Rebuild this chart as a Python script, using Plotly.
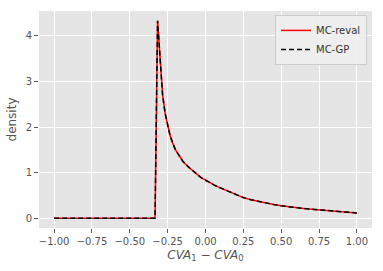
import plotly.graph_objects as go

# x grid points (CVA_1 - CVA_0)
x_vals = [-1.0, -0.3333, -0.3167, -0.30, -0.2833, -0.2667, -0.25, -0.2333, -0.2167, -0.20,
          -0.1833, -0.1667, -0.15, -0.1333, -0.1167, -0.10, -0.0833, -0.0667, -0.05, -0.0333,
          -0.0167, 0.0, 0.0167, 0.0333, 0.05, 0.0667, 0.0833, 0.10, 0.1167, 0.1333,
          0.15, 0.1667, 0.1833, 0.20, 0.2167, 0.2333, 0.25, 0.30, 0.35, 0.40,
          0.45, 0.50, 0.55, 0.60, 0.65, 0.70, 0.75, 0.80, 0.85, 0.90,
          0.95, 1.00]
# density from MC revaluation
y_reval = [0.0, 0.0, 4.33, 3.40, 2.70, 2.30, 2.04, 1.80, 1.65, 1.51,
           1.42, 1.33, 1.25, 1.19, 1.13, 1.085, 1.04, 0.99, 0.945, 0.90,
           0.865, 0.83, 0.80, 0.77, 0.74, 0.71, 0.685, 0.66, 0.635, 0.61,
           0.585, 0.56, 0.535, 0.51, 0.49, 0.47, 0.45, 0.405, 0.365, 0.33,
           0.30, 0.272, 0.248, 0.228, 0.21, 0.195, 0.18, 0.165, 0.152, 0.14,
           0.127, 0.115]
# density from MC with GP
y_gp = [0.0, 0.0, 4.33, 3.40, 2.70, 2.30, 2.04, 1.80, 1.65, 1.51,
        1.42, 1.33, 1.25, 1.19, 1.13, 1.085, 1.04, 0.99, 0.945, 0.90,
        0.865, 0.83, 0.80, 0.77, 0.74, 0.71, 0.685, 0.66, 0.635, 0.61,
        0.585, 0.56, 0.535, 0.51, 0.49, 0.47, 0.45, 0.405, 0.365, 0.33,
        0.30, 0.272, 0.248, 0.228, 0.21, 0.195, 0.18, 0.165, 0.152, 0.14,
        0.127, 0.115]

x_ticks = [-1.0, -0.75, -0.5, -0.25, 0.0, 0.25, 0.5, 0.75, 1.0]
y_ticks = [0, 1, 2, 3, 4]

fig = go.Figure()
fig.add_trace(go.Scatter(x=x_vals, y=y_reval, mode="lines", name="MC-reval",
                         line=dict(color="#FF0000", width=1.5)))
fig.add_trace(go.Scatter(x=x_vals, y=y_gp, mode="lines", name="MC-GP",
                         line=dict(color="#000000", width=1.5, dash="5px,3px")))

tickfont = dict(family="DejaVu Sans", size=10, color="#555555")
fig.update_layout(
    width=383, height=271,
    margin=dict(l=39, r=11, t=11, b=43),
    paper_bgcolor="white",
    plot_bgcolor="#E5E5E5",
    showlegend=True,
    legend=dict(x=0.985, y=0.982, xanchor="right", yanchor="top",
                bgcolor="rgba(238,238,238,0.9)", bordercolor="#CCCCCC", borderwidth=1,
                font=dict(family="DejaVu Sans", size=10, color="#333333"),
                itemwidth=30, tracegroupgap=0),
    xaxis=dict(range=[-1.1, 1.1], tickvals=x_ticks, tickformat=".2f",
               showgrid=True, gridcolor="white", gridwidth=1, zeroline=False,
               showline=False, ticks="outside", ticklen=4, tickcolor="#555555",
               tickfont=tickfont,
               title=dict(text="<i>CVA</i><sub>1</sub> − <i>CVA</i><sub>0</sub>",
                          font=dict(family="DejaVu Sans", size=12, color="#555555"),
                          standoff=4)),
    yaxis=dict(range=[-0.2165, 4.5465], tickvals=y_ticks,
               showgrid=True, gridcolor="white", gridwidth=1, zeroline=False,
               showline=False, ticks="outside", ticklen=4, tickcolor="#555555",
               tickfont=tickfont,
               title=dict(text="density",
                          font=dict(family="DejaVu Sans", size=12, color="#555555"),
                          standoff=6)),
)

fig.write_html("out.html")
